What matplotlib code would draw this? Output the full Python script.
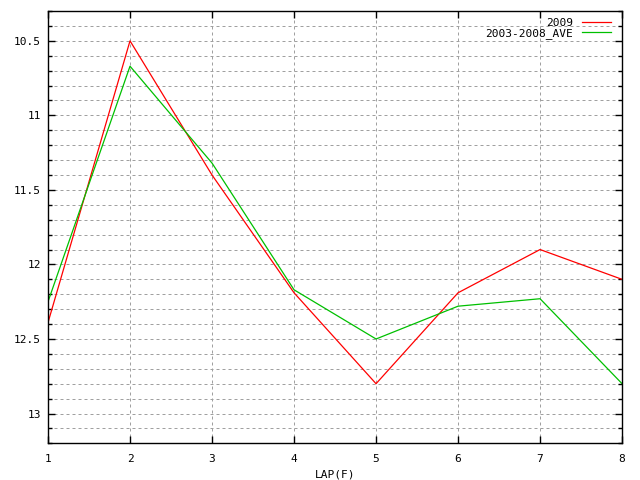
import matplotlib
matplotlib.use('Agg')
from matplotlib import pyplot as plt
from matplotlib.ticker import MultipleLocator, FormatStrFormatter

laps = [1, 2, 3, 4, 5, 6, 7, 8]
times_2009 = [12.39, 10.5, 11.40, 12.19, 12.80, 12.19, 11.90, 12.10]
times_ave = [12.25, 10.67, 11.32, 12.17, 12.50, 12.28, 12.23, 12.80]

plt.rcParams['font.family'] = 'DejaVu Sans Mono'
plt.rcParams['font.size'] = 8

fig = plt.figure(figsize=(6.4, 4.8), dpi=100)
ax = fig.add_axes([0.075, 0.0764, 0.897, 0.9006])

ax.plot(laps, times_2009, c='#ff0000', lw=0.9, label='2009')
ax.plot(laps, times_ave, c='#00c000', lw=0.9, label='2003-2008_AVE')

ax.set_xlim(1, 8)
ax.set_ylim(13.2, 10.3)
ax.yaxis.set_major_locator(MultipleLocator(0.5))
ax.yaxis.set_minor_locator(MultipleLocator(0.1))
ax.xaxis.set_major_locator(MultipleLocator(1))
ax.yaxis.set_major_formatter(FormatStrFormatter('%g'))

# gnuplot style dotted grid
ax.grid(True, which='major', axis='both', color='#a0a0a0', linestyle=(0, (3, 3)), lw=0.72)
ax.grid(True, which='minor', axis='y', color='#a0a0a0', linestyle=(0, (3, 3)), lw=0.72)
ax.tick_params(which='both', direction='in', top=True, right=True, width=1)
ax.tick_params(which='major', length=5)
ax.tick_params(which='minor', length=3)
ax.tick_params(axis='y', which='major', pad=5)
ax.tick_params(axis='x', which='major', pad=8)
for s in ax.spines.values():
    s.set_linewidth(1)

ax.set_xlabel('LAP(F)', labelpad=4)

leg = ax.legend(loc='upper right', bbox_to_anchor=(0.9895, 0.995),
                frameon=False, markerfirst=False,
                handlelength=2.6, borderaxespad=0.15, labelspacing=0.0,
                handletextpad=0.8, borderpad=0.3)
for t in leg.get_texts():
    t.set_ha('right')

fig.savefig('out.png', dpi=100)
